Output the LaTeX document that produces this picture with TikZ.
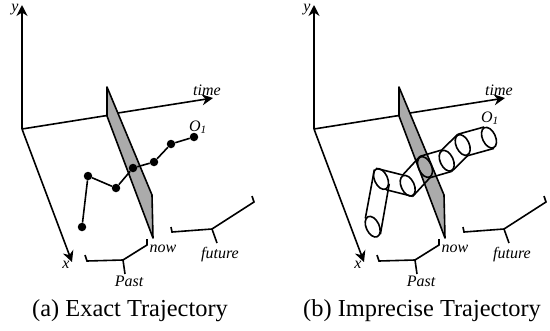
\documentclass[tikz,border=0pt]{standalone}
\usepackage{fontspec}
\setmainfont{Liberation Serif}
\usetikzlibrary{arrows.meta,shapes.geometric}
\tikzset{
  axisline/.style={-{Stealth[length=11pt,width=11pt]},line width=1.6pt},
  frameline/.style={line width=1.6pt},
  nowplane/.style={fill=black!33,draw=black,line width=1.6pt,line join=round},
  trajdot/.style={circle,fill=black,inner sep=0pt,minimum size=8.5pt},
  trajcap/.style={ellipse,draw=black,line width=1.6pt,inner sep=0pt,minimum width=13pt,minimum height=22pt,rotate=25},
  smalltext/.style={font=\itshape\fontsize{16}{16}\selectfont,inner sep=0pt},
  subcaption/.style={font=\fontsize{24.4}{26}\selectfont,inner sep=0pt}
}
\begin{document}
\begin{tikzpicture}[x=1pt,y=-1pt]
  \useasboundingbox (0,0) rectangle (550,330);
  % the same axes, plane and brackets in both panels
  \foreach \px in {0,292} {
    \begin{scope}[shift={(\px,0)}]
      \coordinate (org) at (22,129);
      \draw[axisline] (org)--(22,5);
      \draw[axisline] (org)--(72,262);
      \draw[frameline] (org)--(107,115.5);
      \draw[axisline] (118,113)--(213,98);
      \draw[nowplane] (107,87)--(152,195)--(153,238)--(107,116)--cycle;
      \draw[frameline] (85,255)--(87,261)--(123,260)--(147,245)--(147,239);
      \draw[frameline] (123,260)--(125,274);
      \draw[frameline] (171,227)--(172,232)--(212,229)--(254,202)--(252,196);
      \draw[frameline] (212,229)--(217,243);
      \node[smalltext] at (15,10) {y};
      \node[smalltext] at (66,265) {x};
      \node[smalltext] at (207,90) {time};
      \node[smalltext] at (163,249) {now};
      \node[smalltext] at (129,281) {Past};
      \node[smalltext] at (220,255) {future};
    \end{scope}
  }
  % exact trajectory
  \foreach \i/\a/\b in {1/194/137,2/171/144,3/154/162,4/133/168,5/116/188,6/88/176,7/82/227} {
    \node[trajdot] (dot\i) at (\a,\b) {};
  }
  \foreach \i/\j in {1/2,2/3,3/4,4/5,5/6,6/7} {
    \draw[frameline] (dot\i)--(dot\j);
  }
  \node[smalltext] at (198,127) {O\textsubscript{1}};
  % imprecise trajectory
  \node[smalltext] at (490,118) {O\textsubscript{1}};
  \foreach \i/\a/\b in {1/489/137.7,2/462.7/145,3/446.7/160.7,4/425/167,5/407.7/185.7,6/381/179,7/372.7/226.7} {
    \node[trajcap] (cap\i) at (\a,\b) {};
  }
  \foreach \i/\j in {1/2,2/3,3/4,4/5,5/6} {
    \draw[frameline] (cap\i.north)--(cap\j.north) (cap\i.south)--(cap\j.south);
  }
  \draw[frameline] (cap6.100)--(cap7.107) (cap6.-55)--(cap7.-70);
  \node[subcaption] at (130,311) {(a) Exact Trajectory};
  \node[subcaption] at (422,311) {(b) Imprecise Trajectory};
\end{tikzpicture}
\end{document}
